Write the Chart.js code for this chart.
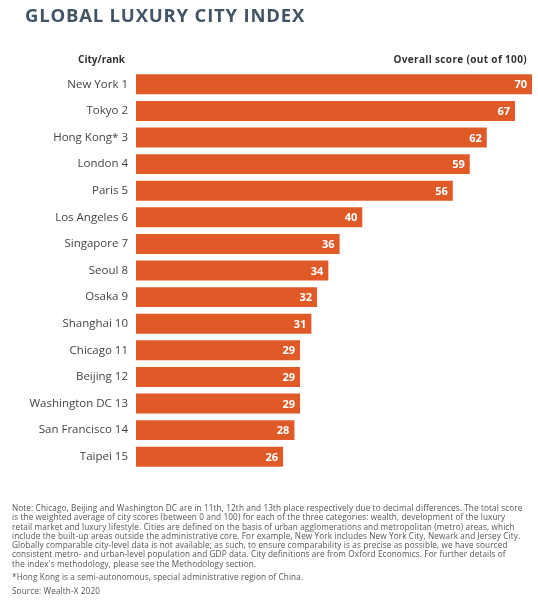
<!DOCTYPE html>
<html>
<head>
<meta charset="utf-8">
<script src="https://cdn.jsdelivr.net/npm/chart.js@4"></script>
<style>
  html, body { margin:0; padding:0; background:#fff; }
  body { width:538px; height:610px; position:relative; overflow:hidden; font-family:"Open Sans", sans-serif; }
  #c { position:absolute; left:0; top:0; }
  .title { position:absolute; left:25px; top:2px; font-size:18.5px; font-weight:700; color:#435466; letter-spacing:0.8px; white-space:nowrap; }
  .hdr { position:absolute; top:52px; font-size:10px; font-weight:700; color:#333; white-space:nowrap; }
  .notes { position:absolute; left:12px; top:503px; font-size:8.2px; line-height:9.3px; letter-spacing:0.12px; color:#555; white-space:nowrap; }
  .notes .g1 { height:3.7px; }
  .notes .g2 { height:4.7px; }
</style>
</head>
<body>
<canvas id="c" width="538" height="610"></canvas>
<div class="title">GLOBAL LUXURY CITY INDEX</div>
<div class="hdr" style="right:413px;">City/rank</div>
<div class="hdr" style="right:11px; letter-spacing:0.35px;">Overall score (out of 100)</div>
<div class="notes">
  <div>Note: Chicago, Beijing and Washington DC are in 11th, 12th and 13th place respectively due to decimal differences. The total score</div>
  <div>is the weighted average of city scores (between 0 and 100) for each of the three categories: wealth, development of the luxury</div>
  <div>retail market and luxury lifestyle. Cities are defined on the basis of urban agglomerations and metropolitan (metro) areas, which</div>
  <div>include the built-up areas outside the administrative core. For example, New York includes New York City, Newark and Jersey City.</div>
  <div>Globally comparable city-level data is not available; as such, to ensure comparability is as precise as possible, we have sourced</div>
  <div>consistent metro- and urban-level population and GDP data. City definitions are from Oxford Economics. For further details of</div>
  <div>the index's methodology, please see the Methodology section.</div>
  <div class="g1"></div>
  <div>*Hong Kong is a semi-autonomous, special administrative region of China.</div>
  <div class="g2"></div>
  <div>Source: Wealth-X 2020</div>
</div>
<script>
const cities = ["New York 1","Tokyo 2","Hong Kong* 3","London 4","Paris 5","Los Angeles 6","Singapore 7","Seoul 8","Osaka 9","Shanghai 10","Chicago 11","Beijing 12","Washington DC 13","San Francisco 14","Taipei 15"];
const scores = [70,67,62,59,56,40,36,34,32,31,29,29,29,28,26];
const barColor = "#E05A28";

const valueLabels = {
  id: "valueLabels",
  afterDatasetsDraw(chart) {
    const ctx = chart.ctx;
    const meta = chart.getDatasetMeta(0);
    ctx.save();
    ctx.fillStyle = "#ffffff";
    ctx.font = "700 11px 'Open Sans', sans-serif";
    ctx.textAlign = "right";
    ctx.textBaseline = "middle";
    meta.data.forEach((bar, i) => {
      ctx.fillText(String(scores[i]), bar.x - 5, bar.y + 1);
    });
    ctx.restore();
  }
};

new Chart(document.getElementById("c"), {
  type: "bar",
  data: {
    labels: cities,
    datasets: [{
      data: scores,
      backgroundColor: barColor,
      borderWidth: 0,
      categoryPercentage: 1,
      barPercentage: 0.75
    }]
  },
  options: {
    indexAxis: "y",
    responsive: false,
    animation: false,
    layout: { padding: { left: 0, right: 6, top: 71, bottom: 140 } },
    plugins: { legend: { display: false }, tooltip: { enabled: false } },
    scales: {
      x: { display: false, min: 0, max: 70 },
      y: {
        afterFit(scale) { scale.width = 136; },
        grid: { display: false, drawTicks: false },
        border: { display: false },
        ticks: {
          padding: 8,
          color: "#444",
          font: { family: "'Open Sans', sans-serif", size: 11.5 }
        }
      }
    }
  },
  plugins: [valueLabels]
});
</script>
</body>
</html>
